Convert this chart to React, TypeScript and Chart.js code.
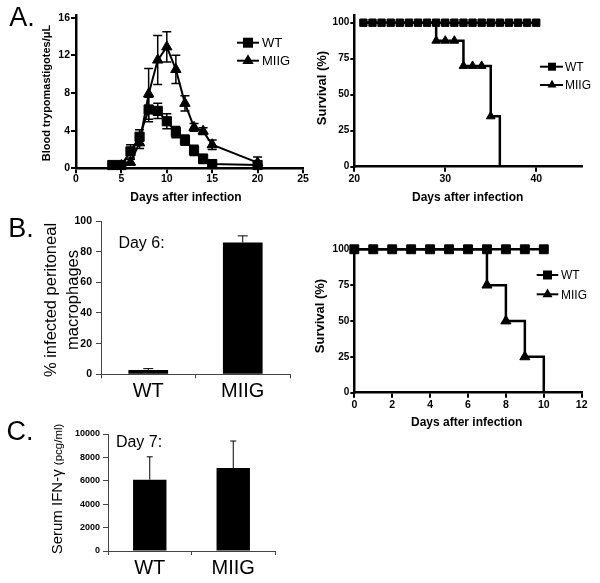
import React, { useEffect, useRef } from 'react';
import { Chart, registerables } from 'chart.js';

Chart.register(...registerables);

const FONT = '"Liberation Sans", Arial, Helvetica, sans-serif';
Chart.defaults.font.family = FONT;
Chart.defaults.color = '#000';

const seriesNames = ['WT', 'MIIG'];

// ---- Panel A (left): blood trypomastigotes / µL ----
const paraDaysWT = [4, 5, 6, 7, 8, 9, 10, 11, 12, 13, 14, 15, 20];
const paraWT = [0.35, 0.35, 1.8, 3.35, 6.25, 6.1, 5.0, 3.85, 3.0, 1.9, 1.0, 0.45, 0.35];
const paraErrWT = [0, 0, 0.7, 0.75, 1.3, 0.8, 0.8, 0.6, 0.55, 0.55, 0.5, 0.2, 0.15];
const paraDaysMIIG = [5, 6, 7, 8, 9, 10, 11, 12, 13, 14, 15, 20];
const paraMIIG = [0.3, 0.65, 2.7, 7.9, 11.5, 12.9, 10.5, 6.9, 4.35, 3.95, 2.5, 0.6];
const paraErrMIIG = [0, 0.3, 0.6, 2.7, 2.6, 1.6, 1.5, 0.8, 0.4, 0.35, 0.5, 0.6];
const paraXTicks = [0, 5, 10, 15, 20, 25];
const paraYTicks = [0, 4, 8, 12, 16];

// ---- Panel A (right): survival ----
const survADaysWT = [21, 22, 23, 24, 25, 26, 27, 28, 29, 30, 31, 32, 33, 34, 35, 36, 37, 38, 39, 40];
const survAWT = [100, 100, 100, 100, 100, 100, 100, 100, 100, 100, 100, 100, 100, 100, 100, 100, 100, 100, 100, 100];
const survADaysMIIG = [21, 29, 30, 31, 32, 33, 34, 35, 36];
const survAMIIG = [100, 87.5, 87.5, 87.5, 70, 70, 70, 35, 0];
const survAXTicks = [20, 30, 40];
const survYTicks = [0, 25, 50, 75, 100];

// ---- Panel B (right): survival ----
const survBDaysWT = [0, 1, 2, 3, 4, 5, 6, 7, 8, 9, 10];
const survBWT = [100, 100, 100, 100, 100, 100, 100, 100, 100, 100, 100];
const survBDaysMIIG = [0, 7, 8, 9, 10];
const survBMIIG = [100, 75, 50, 25, 0];
const survBXTicks = [0, 2, 4, 6, 8, 10, 12];

// ---- Panel B (left): % infected peritoneal macrophages, day 6 ----
const macroValues = [2.8, 86];
const macroErr = [0.9, 4.3];
const macroYTicks = [0, 20, 40, 60, 80, 100];

// ---- Panel C: serum IFN-γ, day 7 ----
const ifnValues = [6100, 7100];
const ifnErr = [1950, 2300];
const ifnYTicks = [0, 2000, 4000, 6000, 8000, 10000];

// ---------------- plugins ----------------
function drawErrors(chart: any, opts: any) {
  const ctx = chart.ctx;
  chart.data.datasets.forEach((ds: any, di: number) => {
    const errs = ds.errorBars;
    if (!errs) return;
    const meta = chart.getDatasetMeta(di);
    const ys = chart.scales[meta.yAxisID];
    ctx.save();
    ctx.strokeStyle = '#000';
    ctx.lineWidth = opts.lineWidth || 1.5;
    const cap = opts.cap || 8;
    meta.data.forEach((el: any, i: number) => {
      const e = errs[i];
      if (!e) return;
      const raw = ds.data[i];
      const v = typeof raw === 'number' ? raw : raw.y;
      const x = el.x;
      const yTop = ys.getPixelForValue(v + e);
      const yBot = opts.both ? ys.getPixelForValue(v - e) : ys.getPixelForValue(v);
      ctx.beginPath();
      ctx.moveTo(x, yTop);
      ctx.lineTo(x, yBot);
      ctx.moveTo(x - cap / 2, yTop);
      ctx.lineTo(x + cap / 2, yTop);
      if (opts.both) {
        ctx.moveTo(x - cap / 2, yBot);
        ctx.lineTo(x + cap / 2, yBot);
      }
      ctx.stroke();
    });
    ctx.restore();
  });
}

const errorBarPlugin = {
  id: 'errorBars',
  beforeDatasetsDraw(chart: any, _a: any, opts: any) {
    if (!opts.after) drawErrors(chart, opts);
  },
  afterDatasetsDraw(chart: any, _a: any, opts: any) {
    if (opts.after) drawErrors(chart, opts);
  },
};

function drawMarker(ctx: any, style: string, x: number, y: number, sq: number, tr: number) {
  ctx.beginPath();
  if (style === 'rect') {
    ctx.rect(x - sq / 2, y - sq / 2, sq, sq);
  } else {
    ctx.moveTo(x, y - tr);
    ctx.lineTo(x + 0.866 * tr, y + 0.5 * tr);
    ctx.lineTo(x - 0.866 * tr, y + 0.5 * tr);
    ctx.closePath();
  }
  ctx.fill();
}

const markLegendPlugin = {
  id: 'markLegend',
  afterDraw(chart: any, _a: any, o: any) {
    if (!o || o.x1 === undefined) return;
    const ctx = chart.ctx;
    ctx.save();
    chart.data.datasets.forEach((ds: any, i: number) => {
      const y = o.y0 + i * o.dy;
      ctx.strokeStyle = '#000';
      ctx.fillStyle = '#000';
      ctx.lineWidth = o.lw;
      ctx.beginPath();
      ctx.moveTo(o.x1, y);
      ctx.lineTo(o.x2, y);
      ctx.stroke();
      drawMarker(ctx, ds.pointStyle, o.mx, y, o.sq, o.tr);
      ctx.font = `${o.size}px ${FONT}`;
      ctx.textAlign = 'left';
      ctx.textBaseline = 'middle';
      ctx.fillText(ds.label, o.tx, y + 1);
    });
    ctx.restore();
  },
};

// ---------------- helpers ----------------
type Box = { left: number; top: number; w: number; h: number };

function linearAxis(o: any) {
  return {
    type: 'linear',
    min: o.min,
    max: o.max,
    afterBuildTicks: (s: any) => {
      s.ticks = o.ticks.map((v: number) => ({ value: v }));
    },
    afterFit: (s: any) => {
      if (o.axis === 'y') s.width = o.size;
      else s.height = o.size;
    },
    grid: {
      display: true,
      drawOnChartArea: false,
      drawTicks: true,
      tickLength: o.tickLength,
      tickWidth: o.tickWidth,
      lineWidth: o.tickWidth,
      color: o.color || '#000',
    },
    border: { display: true, color: o.color || '#000', width: o.borderWidth },
    ticks: {
      autoSkip: false,
      maxRotation: 0,
      color: '#000',
      padding: o.padding,
      font: { family: FONT, size: o.fontSize, weight: 'bold' },
      callback: (v: any) => String(v),
    },
  };
}

function lineDs(label: string, xs: number[], ys: number[], o: any) {
  const last = xs.length - 1;
  return {
    label,
    data: xs.map((x, i) => ({ x, y: ys[i] })),
    borderColor: '#000',
    backgroundColor: '#000',
    borderWidth: o.lw,
    pointStyle: o.style,
    pointRadius: o.hideEnds
      ? (c: any) => (c.dataIndex === 0 || c.dataIndex === last ? 0 : o.radius)
      : o.radius,
    pointBackgroundColor: '#000',
    pointBorderColor: '#000',
    pointBorderWidth: 1,
    pointHoverRadius: o.radius,
    tension: 0,
    stepped: o.stepped ? 'before' : false,
    clip: false,
    fill: false,
    errorBars: o.err,
  };
}

function lineConfig(box: Box, area: any, datasets: any[], x: any, y: any, legend: any, err: any) {
  return {
    type: 'line',
    data: { datasets },
    options: {
      animation: false,
      responsive: false,
      events: [],
      layout: {
        padding: { left: 0, top: area.t - box.top, right: box.left + box.w - area.r, bottom: 0 },
      },
      scales: {
        x: linearAxis({ ...x, axis: 'x', size: box.top + box.h - area.b }),
        y: linearAxis({ ...y, axis: 'y', size: area.l - box.left }),
      },
      plugins: {
        legend: { display: false },
        tooltip: { enabled: false },
        errorBars: err,
        markLegend: legend,
      },
    },
    plugins: [errorBarPlugin, markLegendPlugin],
  };
}

function barConfig(box: Box, area: any, values: number[], errs: number[], y: any, barPct: number) {
  return {
    type: 'bar',
    data: {
      labels: seriesNames,
      datasets: [
        {
          label: 'value',
          data: values,
          backgroundColor: '#000',
          borderWidth: 0,
          barPercentage: barPct,
          categoryPercentage: 1,
          errorBars: errs,
        },
      ],
    },
    options: {
      animation: false,
      responsive: false,
      events: [],
      layout: {
        padding: { left: 0, top: area.t - box.top, right: box.left + box.w - area.r, bottom: 0 },
      },
      scales: {
        x: {
          type: 'category',
          offset: true,
          afterFit: (s: any) => {
            s.height = box.top + box.h - area.b;
          },
          grid: {
            display: true,
            offset: true,
            drawOnChartArea: false,
            drawTicks: true,
            tickLength: 4,
            lineWidth: 1,
            color: '#444',
          },
          border: { display: true, color: '#444', width: 1 },
          ticks: { color: '#000', padding: 1, maxRotation: 0, font: { family: FONT, size: 20 } },
        },
        y: linearAxis({ ...y, axis: 'y', size: area.l - box.left }),
      },
      plugins: {
        legend: { display: false },
        tooltip: { enabled: false },
        errorBars: { after: true, both: false, cap: y.cap, lineWidth: 1 },
      },
    },
    plugins: [errorBarPlugin],
  };
}

function ChartCanvas({ box, config }: { box: Box; config: any }) {
  const ref = useRef<HTMLCanvasElement>(null);
  useEffect(() => {
    const chart = new Chart(ref.current as HTMLCanvasElement, config);
    return () => chart.destroy();
  }, []);
  return (
    <canvas
      ref={ref}
      width={box.w}
      height={box.h}
      style={{ position: 'absolute', left: box.left, top: box.top, width: box.w, height: box.h }}
    />
  );
}

function Txt({ x, y, size, bold, rot, children, lh }: any) {
  return (
    <div
      style={{
        position: 'absolute',
        left: x,
        top: y,
        transform: `translate(-50%, -50%)${rot ? ' rotate(-90deg)' : ''}`,
        whiteSpace: 'nowrap',
        fontFamily: FONT,
        fontSize: size,
        fontWeight: bold ? 'bold' : 'normal',
        lineHeight: lh || 1,
        textAlign: 'center',
        color: '#000',
      }}
    >
      {children}
    </div>
  );
}

// ---------------- layout boxes ----------------
const boxAL: Box = { left: 0, top: 0, w: 315, h: 190 };
const areaAL = { l: 76, t: 14.9, r: 303, b: 168.3 };
const boxAR: Box = { left: 310, top: 0, w: 290, h: 190 };
const areaAR = { l: 354.3, t: 15.5, r: 581.7, b: 166.7 };
const boxBR: Box = { left: 310, top: 230, w: 290, h: 190 };
const areaBR = { l: 354.3, t: 246.4, r: 581.7, b: 392.7 };
const boxBL: Box = { left: 60, top: 200, w: 240, h: 210 };
const areaBL = { l: 101, t: 221, r: 290, b: 374.3 };
const boxC: Box = { left: 60, top: 420, w: 230, h: 163 };
const areaC = { l: 108, t: 434, r: 275, b: 551 };

export default function App() {
  const cfgAL = lineConfig(
    boxAL,
    areaAL,
    [
      lineDs(seriesNames[0], paraDaysWT, paraWT, { lw: 2, style: 'rect', radius: 6.5, err: paraErrWT }),
      lineDs(seriesNames[1], paraDaysMIIG, paraMIIG, { lw: 2, style: 'triangle', radius: 6, err: paraErrMIIG }),
    ],
    { min: 0, max: 25, ticks: paraXTicks, tickLength: 5, tickWidth: 2, borderWidth: 2.5, padding: 0, fontSize: 10.5 },
    { min: 0, max: 16.3, ticks: paraYTicks, tickLength: 5, tickWidth: 2, borderWidth: 2.5, padding: 1, fontSize: 10.5 },
    { x1: 237, x2: 259, mx: 248, tx: 262, y0: 42.7, dy: 18, lw: 2, sq: 10, tr: 6.5, size: 13 },
    { after: false, both: true, cap: 9, lineWidth: 1.5 }
  );

  const cfgAR = lineConfig(
    boxAR,
    areaAR,
    [
      lineDs(seriesNames[0], survADaysWT, survAWT, { lw: 2.5, style: 'rect', radius: 5.2 }),
      lineDs(seriesNames[1], survADaysMIIG, survAMIIG, { lw: 2.5, style: 'triangle', radius: 5, stepped: true, hideEnds: true }),
    ],
    { min: 20, max: 45, ticks: survAXTicks, tickLength: 5, tickWidth: 2, borderWidth: 2.5, padding: 1.3, fontSize: 10.5 },
    { min: 0, max: 105, ticks: survYTicks, tickLength: 4, tickWidth: 2, borderWidth: 2.5, padding: 1, fontSize: 10 },
    { x1: 230, x2: 253, mx: 242, tx: 255, y0: 66.7, dy: 18.3, lw: 2, sq: 8, tr: 5.2, size: 12 },
    { after: false, both: true }
  );

  const cfgBR = lineConfig(
    boxBR,
    areaBR,
    [
      lineDs(seriesNames[0], survBDaysWT, survBWT, { lw: 2.5, style: 'rect', radius: 6.3 }),
      lineDs(seriesNames[1], survBDaysMIIG, survBMIIG, { lw: 2.5, style: 'triangle', radius: 5.8, stepped: true, hideEnds: true }),
    ],
    { min: 0, max: 12, ticks: survBXTicks, tickLength: 5, tickWidth: 2, borderWidth: 2.5, padding: 1.3, fontSize: 10.5 },
    { min: 0, max: 102, ticks: survYTicks, tickLength: 4, tickWidth: 2, borderWidth: 2.5, padding: 1, fontSize: 10 },
    { x1: 226.7, x2: 248.3, mx: 237.5, tx: 251, y0: 45, dy: 19.3, lw: 2, sq: 9, tr: 5.8, size: 12 },
    { after: false, both: true }
  );

  const cfgBL = barConfig(
    boxBL,
    areaBL,
    macroValues,
    macroErr,
    { min: 0, max: 100, ticks: macroYTicks, tickLength: 5, tickWidth: 1, borderWidth: 1, padding: 4, fontSize: 10.5, color: '#444', cap: 10 },
    0.42
  );

  const cfgC = barConfig(
    boxC,
    areaC,
    ifnValues,
    ifnErr,
    { min: 0, max: 10000, ticks: ifnYTicks, tickLength: 5, tickWidth: 1, borderWidth: 1, padding: 3, fontSize: 9, color: '#444', cap: 6 },
    0.4
  );

  return (
    <div style={{ position: 'absolute', left: 0, top: 0, width: 600, height: 583, background: '#fff', overflow: 'hidden' }}>
      <ChartCanvas box={boxAL} config={cfgAL} />
      <ChartCanvas box={boxAR} config={cfgAR} />
      <ChartCanvas box={boxBL} config={cfgBL} />
      <ChartCanvas box={boxBR} config={cfgBR} />
      <ChartCanvas box={boxC} config={cfgC} />

      <Txt x={22} y={17} size={27}>A.</Txt>
      <Txt x={21} y={228} size={27}>B.</Txt>
      <Txt x={20} y={431} size={27}>C.</Txt>

      <Txt x={46} y={93} size={11} bold rot>Blood trypomastigotes/μL</Txt>
      <Txt x={186} y={197.3} size={12} bold>Days after infection</Txt>
      <Txt x={321} y={87.5} size={13} bold rot>Survival (%)</Txt>
      <Txt x={467.7} y={196.7} size={12} bold>Days after infection</Txt>

      <Txt x={61} y={300} size={16.5} rot lh="22px">
        % infected peritoneal
        <br />
        macrophages
      </Txt>
      <Txt x={141.5} y={243} size={16}>Day 6:</Txt>
      <Txt x={319} y={315.8} size={13} bold rot>Survival (%)</Txt>
      <Txt x={466.7} y={421.7} size={12} bold>Days after infection</Txt>

      <Txt x={57} y={489} size={15} rot>
        Serum IFN-γ <span style={{ fontSize: 11.5 }}>(pcg/ml)</span>
      </Txt>
      <Txt x={139} y={441.5} size={16}>Day 7:</Txt>
    </div>
  );
}
